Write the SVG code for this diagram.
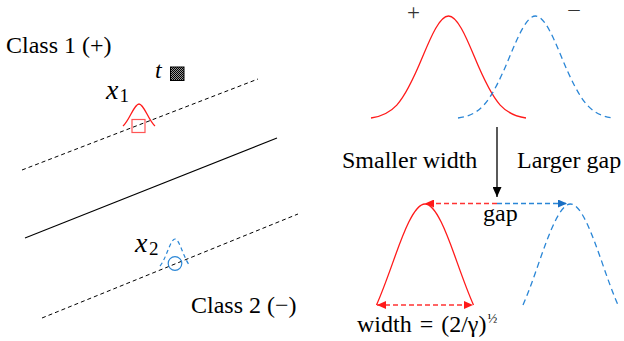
<svg xmlns="http://www.w3.org/2000/svg" width="624" height="341" viewBox="0 0 624 341" font-family="'Liberation Serif', 'Times New Roman', 'DejaVu Serif', serif">
<style>
text{fill:#000}
.lbl{font-size:24px}
.it{font-style:italic}
.sign{fill:#333}
.hyper{fill:none;stroke:#000;stroke-width:1.1}
.margin{fill:none;stroke:#000;stroke-width:1;stroke-dasharray:4,3}
.red{fill:none;stroke:#ff1a1a;stroke-width:1.3}
.blue{fill:none;stroke:#2a86d6;stroke-width:1.3;stroke-dasharray:6,4}
.redd{fill:none;stroke:#ff3333;stroke-width:1.3;stroke-dasharray:5,3}
.blued{fill:none;stroke:#2a86d6;stroke-width:1.3;stroke-dasharray:5,3}
.conn{fill:none;stroke:#000;stroke-width:1.3}
</style>
<defs>
<pattern id="dots" width="2" height="2" patternUnits="userSpaceOnUse">
<rect width="2" height="2" fill="#999"/>
<rect width="1" height="1" fill="#000"/>
<rect x="1" y="1" width="1" height="1" fill="#000"/>
</pattern>
<marker id="ahBlack" markerUnits="userSpaceOnUse" markerWidth="10" markerHeight="9" refX="10" refY="4.5" orient="auto">
<path d="M0,0 L10,4.5 L0,9 z" fill="#000"/>
</marker>
<marker id="ahRed" markerUnits="userSpaceOnUse" markerWidth="9" markerHeight="8" refX="9" refY="4" orient="auto-start-reverse">
<path d="M0,0 L9,4 L0,8 z" fill="#ff1a1a"/>
</marker>
<marker id="ahBlue" markerUnits="userSpaceOnUse" markerWidth="9" markerHeight="8" refX="9" refY="4" orient="auto">
<path d="M0,0 L9,4 L0,8 z" fill="#1a6fc4"/>
</marker>
</defs>

<g id="left-panel">
<g id="class1-label"><text class="lbl" x="6" y="53">Class 1 (+)</text></g>
<g id="test-point">
<text class="lbl it" x="155" y="78">t</text>
<rect x="170.5" y="67" width="13.5" height="13.5" fill="url(#dots)" stroke="#000" stroke-width="1"/>
</g>
<g id="upper-margin"><line class="margin" x1="22" y1="170" x2="258" y2="79"/></g>
<g id="hyperplane"><line class="hyper" x1="25" y1="238" x2="277" y2="138"/></g>
<g id="lower-margin"><line class="margin" x1="42" y1="318" x2="298" y2="214"/></g>
<g id="x1">
<text class="it" x="106" y="99" font-size="28">x</text>
<text x="119.5" y="102" font-size="19">1</text>
<path class="red" stroke-width="1.2" d="M123,126 C125.7,123.7 128.3,119.1 131,114 C133.7,108.9 136.3,104 139,104 C141.7,104 144.3,108.9 147,114 C149.7,119.1 152.3,123.7 155,126"/>
<rect x="132" y="119.5" width="13" height="13" fill="none" stroke="#ff5555" stroke-width="1.2"/>
</g>
<g id="x2">
<text class="it" x="135" y="252" font-size="28">x</text>
<text x="149" y="255" font-size="19">2</text>
<path fill="none" stroke="#2a86d6" stroke-width="1.2" stroke-dasharray="4,3" d="M160,266 C162.5,263.2 165,257.6 167.5,251.3 C170,245 172.5,239 175,239 C177.5,239 180,245 182.5,251.3 C185,257.6 187.5,263.2 190,266"/>
<circle cx="175" cy="263.5" r="6.8" fill="none" stroke="#2a86d6" stroke-width="1.2"/>
</g>
<g id="class2-label"><text class="lbl" x="191" y="313">Class 2 (−)</text></g>
</g>

<g id="right-top">
<text class="sign" x="407" y="20.3" font-size="23">+</text>
<text class="sign" x="567" y="17" font-size="19" textLength="14" lengthAdjust="spacingAndGlyphs">−</text>
<path id="pos-wide" class="red" d="M371,118 C379.6,116.8 388.2,114.4 396.8,105.1 C405.4,95.8 414.1,77.4 422.7,56.6 C431.3,35.7 439.9,16 448.5,16 C457.1,16 465.7,35.7 474.3,56.6 C482.9,77.4 491.6,95.8 500.2,105.1 C508.8,114.4 517.4,116.8 526,118"/>
<path id="neg-wide" class="blue" d="M458,118 C466.6,116.8 475.2,114.4 483.8,105.1 C492.4,95.8 501.1,77.4 509.7,56.6 C518.3,35.7 526.9,16 535.5,16 C544.1,16 552.7,35.7 561.3,56.6 C569.9,77.4 578.6,95.8 587.2,105.1 C595.8,114.4 604.4,116.8 613,118"/>
</g>

<g id="labels-mid">
<text class="lbl" x="342" y="168">Smaller width</text>
<text class="lbl" x="517" y="168">Larger gap</text>
</g>

<g id="right-bottom">
<path id="pos-narrow" class="red" d="M376.5,305 C381.9,292.9 387.3,278 392.7,262.9 C403.4,232.6 414.2,204 425,204 C435.8,204 446.6,232.6 457.3,262.9 C462.7,278 468.1,292.9 473.5,305"/>
<path id="neg-narrow" class="blue" d="M523,305 C528.3,292.9 533.6,278 538.8,262.9 C549.4,232.6 560,204 570.5,204 C581,204 591.6,232.6 602.2,262.9 C607.4,278 612.7,292.9 618,305"/>
<text class="lbl" x="483" y="221">gap</text>
<text class="lbl" x="357" y="332" word-spacing="2">width = (2/γ)<tspan font-size="13" x="487.5" y="323">½</tspan></text>
</g>

<g id="connectors">
<line class="conn" x1="497" y1="127" x2="497" y2="197" marker-end="url(#ahBlack)"/>
<line class="redd" x1="497" y1="203.5" x2="425" y2="203.5" marker-end="url(#ahRed)"/>
<line class="blued" x1="497" y1="203.5" x2="567" y2="203.5" marker-end="url(#ahBlue)"/>
<line class="redd" x1="377" y1="305" x2="473" y2="305" marker-start="url(#ahRed)" marker-end="url(#ahRed)"/>
</g>
</svg>
